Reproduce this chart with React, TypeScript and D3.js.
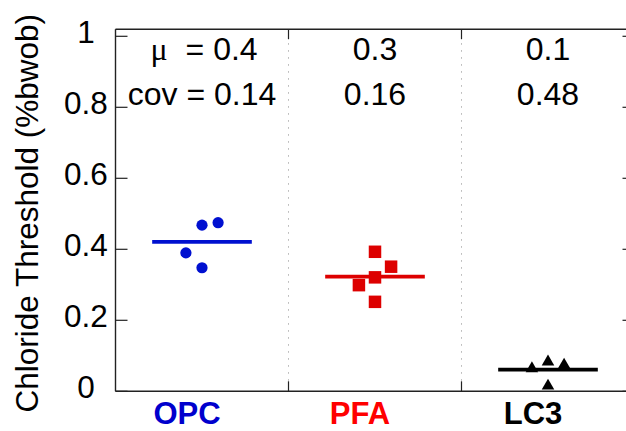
import React from 'react';
import * as d3 from 'd3';

// ---- data ----
const categories = ['OPC', 'PFA', 'LC3'];
const categoryColors = ['#0000cd', '#ff0000', '#000000'];
const markerColors = ['#0010d0', '#dd0000', '#000000'];
const markerShapes = ['circle', 'square', 'triangle'];

const opcValues = [0.468, 0.475, 0.39, 0.348];
const opcOffsets = [0, 1, -1, 0];
const pfaValues = [0.393, 0.351, 0.321, 0.299, 0.252];
const pfaOffsets = [0, 1, 0, -1, 0];
const lc3Values = [0.067, 0.086, 0.077, 0.018];
const lc3Offsets = [-1, 0, 1, 0];

const meanValues = [0.421, 0.323, 0.061];
const muLabels = ['0.4', '0.3', '0.1'];
const covLabels = ['0.14', '0.16', '0.48'];

const yTicks = [0, 0.2, 0.4, 0.6, 0.8, 1];
const yTickLabels = ['0', '0.2', '0.4', '0.6', '0.8', '1'];
const gridX = [0.5, 1.5, 2.5];

const seriesValues = [opcValues, pfaValues, lc3Values];
const seriesOffsets = [opcOffsets, pfaOffsets, lc3Offsets];

// ---- layout ----
const W = 626;
const H = 431;
const JITTER = 0.093;
const HALF_MEAN = 0.288;
const FONT = 'Liberation Sans, Arial, Helvetica, sans-serif';

export default function App() {
  const x = d3.scaleLinear().domain([0.5, 3.5]).range([115.5, 634.5]);
  const y = d3.scaleLinear().domain([0, 1]).range([391.3, 36.3]);
  const yTop = y(1.02);
  const x0 = x(0.5);
  const x1 = x(3.5);
  const y0 = y(0);

  const sym = {
    circle: d3.symbol().type(d3.symbolCircle).size(Math.PI * 5.6 * 5.6),
    square: d3.symbol().type(d3.symbolSquare).size(12.5 * 12.5),
    triangle: d3.symbol().type(d3.symbolTriangle).size(68),
  } as Record<string, any>;

  return (
    <svg
      width={W}
      height={H}
      style={{ position: 'absolute', left: 0, top: 0, background: '#fff', overflow: 'hidden' }}
      fontFamily={FONT}
    >
      <rect x={0} y={0} width={W} height={H} fill="#fff" />
      {/* dotted grid separators */}
      {gridX.map((g, i) => (
        <line
          key={'g' + i}
          x1={x(g)}
          x2={x(g)}
          y1={yTop}
          y2={y0}
          stroke="#b0b0b0"
          strokeWidth={1}
          strokeDasharray="1.5,5.5"
        />
      ))}
      {/* frame */}
      <line x1={x0} x2={x1} y1={yTop} y2={yTop} stroke="#222" strokeWidth={1.4} />
      <line x1={x0} x2={x1} y1={y0} y2={y0} stroke="#222" strokeWidth={1.4} />
      <line x1={x0} x2={x0} y1={yTop} y2={y0} stroke="#222" strokeWidth={1.4} />
      <line x1={x1} x2={x1} y1={yTop} y2={y0} stroke="#222" strokeWidth={1.4} />
      {/* y ticks */}
      {yTicks.map((t, i) => (
        <g key={'yt' + i}>
          <line x1={x0} x2={x0 + 12} y1={y(t)} y2={y(t)} stroke="#222" strokeWidth={1.2} />
          <line x1={x1 - 12} x2={x1} y1={y(t)} y2={y(t)} stroke="#222" strokeWidth={1.2} />
          <text x={86} y={y(t) + 7} textAnchor="middle" fontSize={31.5} fill="#000">
            {yTickLabels[i]}
          </text>
        </g>
      ))}
      {/* x ticks at separators */}
      {gridX.slice(1).map((g, i) => (
        <g key={'xt' + i}>
          <line x1={x(g)} x2={x(g)} y1={yTop} y2={yTop + 10} stroke="#222" strokeWidth={1.2} />
          <line x1={x(g)} x2={x(g)} y1={y0} y2={y0 - 10} stroke="#222" strokeWidth={1.2} />
        </g>
      ))}
      {/* y label */}
      <text
        transform={`translate(38,${(yTop + y0) / 2 + 3}) rotate(-90)`}
        textAnchor="middle"
        fontSize={31.5}
        fill="#000"
      >
        Chloride Threshold (%bwob)
      </text>
      {/* category labels */}
      {categories.map((c, i) => (
        <text
          key={'c' + i}
          x={x(i + 1) - 15}
          y={424.3}
          textAnchor="middle"
          fontSize={31}
          fontWeight="bold"
          fill={categoryColors[i]}
        >
          {c}
        </text>
      ))}
      {/* annotations */}
      {categories.map((c, i) => (
        <g key={'a' + i}>
          <text x={x(i + 1) + (i === 0 ? 2 : 0)} y={60} textAnchor="middle" fontSize={32} fill="#000">
            {i === 0 ? (
              <>
                <tspan fontFamily="Liberation Serif, Times New Roman, serif">{'\u03bc'}</tspan>
                <tspan dx={18}>{'= ' + muLabels[i]}</tspan>
              </>
            ) : (
              muLabels[i]
            )}
          </text>
          <text x={x(i + 1)} y={105} textAnchor="middle" fontSize={32} fill="#000">
            {i === 0 ? 'cov = ' + covLabels[i] : covLabels[i]}
          </text>
        </g>
      ))}
      {/* mean lines */}
      {meanValues.map((m, i) => (
        <line
          key={'m' + i}
          x1={x(i + 1 - HALF_MEAN)}
          x2={x(i + 1 + HALF_MEAN)}
          y1={y(m)}
          y2={y(m)}
          stroke={markerColors[i]}
          strokeWidth={3.8}
        />
      ))}
      {/* points */}
      {seriesValues.map((vals, i) =>
        vals.map((v, j) => (
          <path
            key={'p' + i + '-' + j}
            d={sym[markerShapes[i]]()}
            transform={`translate(${x(i + 1 + seriesOffsets[i][j] * JITTER)},${y(v) + (markerShapes[i] === 'triangle' ? 1 : 0)})`}
            fill={markerColors[i]}
          />
        ))
      )}
    </svg>
  );
}
